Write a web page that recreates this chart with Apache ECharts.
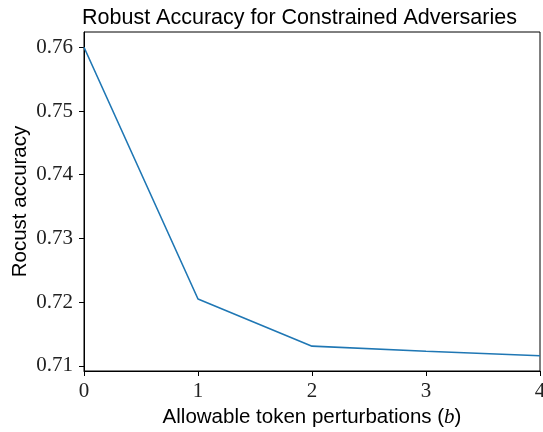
<!DOCTYPE html>
<html><head><meta charset="utf-8">
<script src="https://cdn.jsdelivr.net/npm/echarts@6/dist/echarts.min.js"></script>
<style>html,body{margin:0;padding:0;background:#fff}#c{width:543px;height:432px}</style>
</head><body><div id="c"></div>
<script>
const xValues = [0, 1, 2, 3, 4];
const accuracy = [0.7600, 0.7205, 0.7131, 0.7123, 0.7116];
const yTicks = [0.71, 0.72, 0.73, 0.74, 0.75, 0.76];
const xTicks = [0, 1, 2, 3, 4];
const titleText = 'Robust Accuracy for Constrained Adversaries';
const yName = 'Rocust accuracy';

const chart = echarts.init(document.getElementById('c'), null, {renderer: 'canvas'});
const serif = '"Liberation Serif", "DejaVu Serif", serif';
const sans = '"Liberation Sans", Arial, sans-serif';
chart.setOption({
  animation: false,
  backgroundColor: '#fff',
  title: {
    text: titleText, left: 77, top: 2,
    textStyle: {fontFamily: sans, fontSize: 21.5, fontWeight: 'normal', color: '#000'}
  },
  grid: {left: 84, right: 3, top: 32, bottom: 61, show: true, borderColor: '#000', borderWidth: 1,
    backgroundColor: 'transparent', containLabel: false, outerBoundsMode: 'none'},
  xAxis: {
    type: 'value', min: 0, max: 4, interval: 1,
    axisLine: {show: true, lineStyle: {color: '#000', width: 1}},
    axisTick: {show: true, length: 5, lineStyle: {color: '#000'}},
    splitLine: {show: false},
    axisLabel: {fontFamily: serif, fontSize: 21, color: '#222', margin: 10,
      customValues: xTicks, formatter: v => String(v)},
    name: '{a|Allowable token perturbations (}{b|b}{a|)}',
    nameLocation: 'middle', nameGap: 30,
    nameTextStyle: {rich: {
      a: {fontFamily: sans, fontSize: 20.5, color: '#000'},
      b: {fontFamily: serif, fontSize: 21, fontStyle: 'italic', color: '#000'}
    }}
  },
  yAxis: {
    type: 'value', min: 0.7092, max: 0.7624,
    axisLine: {show: true, lineStyle: {color: '#000', width: 1}},
    axisTick: {show: true, length: 5, lineStyle: {color: '#000'}, customValues: yTicks},
    splitLine: {show: false},
    axisLabel: {fontFamily: serif, fontSize: 21, color: '#222', margin: 11,
      customValues: yTicks, formatter: v => v.toFixed(2)},
    name: yName, nameLocation: 'middle', nameGap: 53, nameRotate: 90, nameMoveOverlap: false,
    nameTextStyle: {fontFamily: sans, fontSize: 20.5, color: '#000'}
  },
  series: [{
    type: 'line',
    data: xValues.map((x, i) => [x, accuracy[i]]),
    showSymbol: false, symbol: 'none',
    lineStyle: {color: '#1f77b4', width: 1.6},
    itemStyle: {color: '#1f77b4'}
  }]
});
</script></body></html>
